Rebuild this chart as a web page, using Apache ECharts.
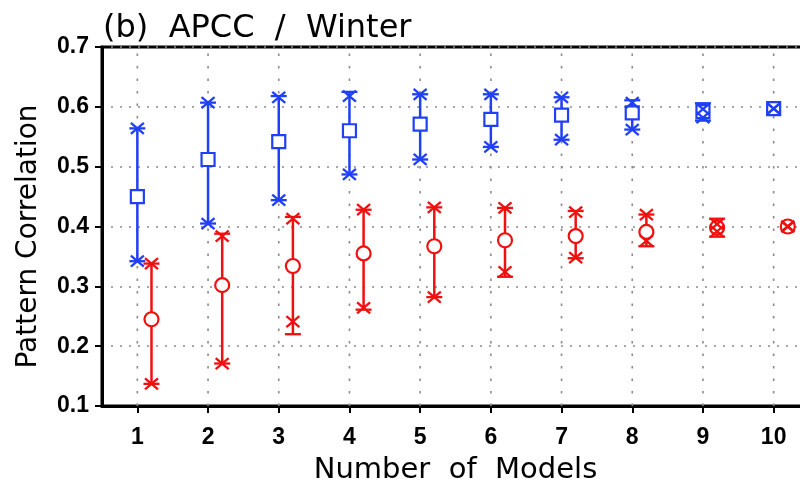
<!DOCTYPE html>
<html>
<head>
<meta charset="utf-8">
<script src="https://cdn.jsdelivr.net/npm/echarts@6/dist/echarts.min.js"></script>
<style>
  html, body { margin: 0; padding: 0; background: #ffffff; }
  #chart { width: 800px; height: 486px; }
</style>
</head>
<body>
<div id="chart"></div>
<script>
// Ensemble size on the x axis
const models = [1, 2, 3, 4, 5, 6, 7, 8, 9, 10];
const yTicks = [0.1, 0.2, 0.3, 0.4, 0.5, 0.6, 0.7];

// Square series (blue): mean, whisker range (caps) and cross markers
const blueMean   = [0.450, 0.512, 0.542, 0.560, 0.571, 0.579, 0.586, 0.590, 0.592, 0.597];
const blueCapLo  = [0.342, 0.405, 0.444, 0.487, 0.512, 0.533, 0.545, 0.562, 0.577, 0.597];
const blueCapHi  = [0.564, 0.607, 0.618, 0.625, 0.621, 0.621, 0.616, 0.611, 0.606, 0.597];
const blueStarLo = [0.342, 0.405, 0.444, 0.487, 0.512, 0.533, 0.545, 0.562, 0.582, 0.597];
const blueStarHi = [0.564, 0.607, 0.616, 0.618, 0.621, 0.621, 0.616, 0.607, 0.596, 0.597];

// Circle series (red)
const redMean   = [0.245, 0.302, 0.334, 0.355, 0.367, 0.377, 0.384, 0.391, 0.398, 0.400];
const redCapLo  = [0.137, 0.171, 0.220, 0.261, 0.282, 0.316, 0.347, 0.367, 0.383, 0.400];
const redCapHi  = [0.338, 0.388, 0.416, 0.428, 0.432, 0.431, 0.426, 0.420, 0.413, 0.400];
const redStarLo = [0.137, 0.171, 0.241, 0.264, 0.282, 0.324, 0.348, 0.376, 0.392, 0.400];
const redStarHi = [0.338, 0.384, 0.413, 0.428, 0.432, 0.431, 0.424, 0.420, 0.404, 0.400];

const BLUE = '#2040f8';
const RED = '#f01010';
const NUM_FONT = "'Liberation Sans','Arimo',sans-serif";
const TEXT_FONT = "'DejaVu Sans','Liberation Sans',sans-serif";

function rows(mean, capLo, capHi, starLo, starHi) {
  return models.map((m, i) => [m, mean[i], capLo[i], capHi[i], starLo[i], starHi[i]]);
}

// Whisker + cap + cross markers + hollow mean symbol
function whiskerRenderer(color, offset, shape) {
  return function (params, api) {
    const x = api.value(0) + offset;
    const pt = v => api.coord([x, v]);
    const mean = api.value(1), capLo = api.value(2), capHi = api.value(3);
    const starLo = api.value(4), starHi = api.value(5);
    const lo = Math.min(capLo, starLo), hi = Math.max(capHi, starHi);
    const thin = { stroke: color, lineWidth: 2.3, fill: null };
    const kids = [];
    const a = pt(lo), b = pt(hi);
    kids.push({ type: 'line', shape: { x1: a[0], y1: a[1], x2: b[0], y2: b[1] },
                style: { stroke: color, lineWidth: 2.5 } });
    if (capHi > capLo) {
      [capLo, capHi].forEach(v => {
        const c = pt(v);
        kids.push({ type: 'line', shape: { x1: c[0] - 8, y1: c[1], x2: c[0] + 8, y2: c[1] }, style: thin });
      });
    }
    const m = pt(mean);
    if (shape === 'square') {
      kids.push({ type: 'rect', shape: { x: m[0] - 6.5, y: m[1] - 6.5, width: 13, height: 13 },
                  style: { fill: '#ffffff', stroke: color, lineWidth: 2.2 } });
    } else {
      kids.push({ type: 'circle', shape: { cx: m[0], cy: m[1], r: 7 },
                  style: { fill: '#ffffff', stroke: color, lineWidth: 2.2 } });
    }
    [starLo, starHi].forEach(v => {
      const c = pt(v);
      kids.push({ type: 'line', shape: { x1: c[0] - 6.5, y1: c[1] - 5.5, x2: c[0] + 6.5, y2: c[1] + 5.5 }, style: thin });
      kids.push({ type: 'line', shape: { x1: c[0] - 6.5, y1: c[1] + 5.5, x2: c[0] + 6.5, y2: c[1] - 5.5 }, style: thin });
    });
    return { type: 'group', children: kids };
  };
}

// Vertical dotted guide at every ensemble size
function guideRenderer(params, api) {
  const m = api.value(0);
  const a = api.coord([m, yTicks[0]]);
  const b = api.coord([m, yTicks[yTicks.length - 1]]);
  return { type: 'line', shape: { x1: a[0], y1: a[1], x2: b[0], y2: b[1] },
           style: { stroke: '#8a8a8a', lineWidth: 1.6, lineDash: [2.5, 10] } };
}

const chart = echarts.init(document.getElementById('chart'), null, { renderer: 'canvas' });
chart.setOption({
  animation: false,
  backgroundColor: '#ffffff',
  title: {
    text: '(b)  APCC  /  Winter',
    left: 98, top: 8,
    textStyle: { fontFamily: TEXT_FONT, fontSize: 32, fontWeight: 'normal', color: '#000' }
  },
  // plot frame runs past the right edge of the canvas
  grid: { left: 102, right: -9, top: 47, bottom: 80, show: true,
          outerBoundsMode: 'none', containLabel: false,
          borderColor: '#000', borderWidth: 3, backgroundColor: 'transparent' },
  xAxis: {
    type: 'value', min: 0.5, max: 10.5,
    name: 'Number  of  Models', nameLocation: 'middle', nameGap: 50,
    nameTextStyle: { fontFamily: TEXT_FONT, fontSize: 29, color: '#000' },
    axisLine: { show: true, lineStyle: { color: '#000', width: 3 } },
    axisTick: { show: true, customValues: models, length: 7, lineStyle: { color: '#000', width: 2 } },
    axisLabel: { customValues: models, margin: 20, color: '#000',
                 fontFamily: NUM_FONT, fontSize: 23, fontWeight: 'bold' },
    splitLine: { show: false }
  },
  yAxis: {
    type: 'value', min: yTicks[0], max: yTicks[yTicks.length - 1], interval: 0.1,
    name: 'Pattern Correlation', nameLocation: 'middle', nameGap: 59,
    nameTextStyle: { fontFamily: TEXT_FONT, fontSize: 28, color: '#000', padding: [0, 20, 0, 0] },
    axisLine: { show: true, lineStyle: { color: '#000', width: 3 } },
    axisTick: { show: true, length: 7, lineStyle: { color: '#000', width: 2 } },
    axisLabel: { margin: 13, color: '#000', fontFamily: NUM_FONT, fontSize: 23, fontWeight: 'bold',
                 formatter: v => v.toFixed(1) },
    splitLine: { show: true, lineStyle: { color: '#8a8a8a', width: 1.6, type: [2, 7] } }
  },
  series: [
    { type: 'custom', name: 'guides', z: 1, silent: true,
      data: models.map(m => [m]), encode: { x: 0 }, renderItem: guideRenderer },
    { type: 'custom', name: 'squares', z: 3, silent: true,
      data: rows(blueMean, blueCapLo, blueCapHi, blueStarLo, blueStarHi),
      encode: { x: 0, y: [1, 2, 3, 4, 5] },
      renderItem: whiskerRenderer(BLUE, 0, 'square') },
    { type: 'custom', name: 'circles', z: 3, silent: true,
      data: rows(redMean, redCapLo, redCapHi, redStarLo, redStarHi),
      encode: { x: 0, y: [1, 2, 3, 4, 5] },
      renderItem: whiskerRenderer(RED, 0.2, 'circle') }
  ]
});
</script>
</body>
</html>
